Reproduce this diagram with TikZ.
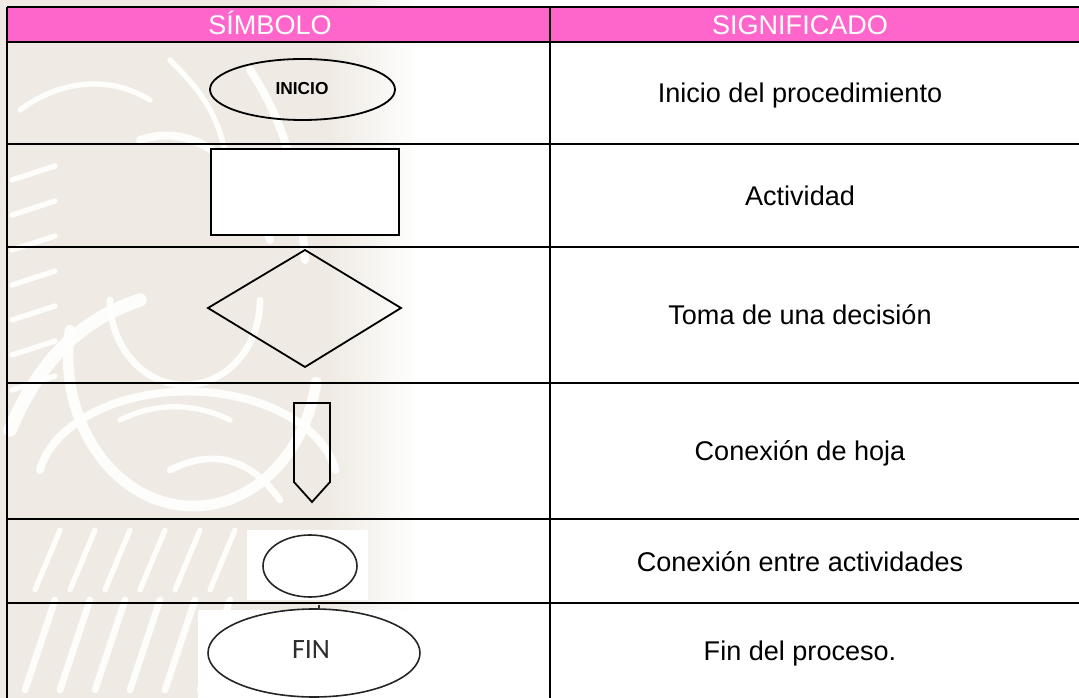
\documentclass[tikz,border=0pt]{standalone}
\usepackage{fontspec}
\setmainfont{Liberation Sans}
\newfontfamily\calfont{Carlito}
\definecolor{hdrpink}{RGB}{255,102,204}
\definecolor{wmbeige}{RGB}{239,235,228}
\definecolor{finfg}{RGB}{45,45,45}
\begin{document}
\begin{tikzpicture}[x=0.75pt,y=-0.75pt,
  grid/.style={line width=1.7pt,black},
  shp/.style={line width=1.35pt,black,line join=miter},
  hdr/.style={text=white,font=\fontsize{20.3pt}{24pt}\selectfont,anchor=base,inner sep=0pt},
  body/.style={text=black,font=\fontsize{20.3pt}{24pt}\selectfont,anchor=base,inner sep=0pt},
  wm/.style={white,line width=5pt,line cap=round,opacity=0.9}]
\useasboundingbox (0,0) rectangle (1079,698);
\fill[white] (0,0) rectangle (1079,698);
% watermark (faint emblem)
\fill[wmbeige] (0,0) rectangle (330,698);
\shade[left color=wmbeige,right color=white] (330,0) rectangle (420,698);
\begin{scope}
\clip (0,0) rectangle (420,698);
% large rings
\draw[wm,line width=8pt] (70,330) arc[start angle=190,end angle=10,x radius=125,y radius=150];
\draw[wm,line width=6pt] (40,470) arc[start angle=190,end angle=350,x radius=150,y radius=95];
\draw[wm,line width=5pt] (110,300) arc[start angle=180,end angle=0,x radius=75,y radius=85];
\draw[wm,line width=10pt] (10,430) .. controls (40,360) and (80,320) .. (140,300);
\draw[wm,line width=6pt] (140,140) .. controls (200,120) and (250,170) .. (270,240);
\draw[wm,line width=6pt] (250,70) .. controls (290,130) and (300,190) .. (305,260);
\draw[wm,line width=4pt] (20,110) .. controls (60,80) and (110,75) .. (150,100);
\draw[wm,line width=4pt] (170,60) .. controls (200,90) and (215,110) .. (225,150);
% feathers left side
\foreach \yy in {180,215,250,285,320,355,390}{
  \draw[wm,line width=4pt] (12,\yy) -- (55,\yy-14);
}
% feathers bottom left
\foreach \xx in {25,60,95,130,165,200}{
  \draw[wm,line width=5pt] (\xx,690) -- (\xx+30,600);
  \draw[wm,line width=4pt] (\xx+10,590) -- (\xx+35,530);
}
\draw[wm,line width=5pt] (170,470) .. controls (220,445) and (255,465) .. (280,500);
\draw[wm,line width=4pt] (120,420) .. controls (160,400) and (200,405) .. (230,420);
\end{scope}
% header
\fill[hdrpink] (7,7) rectangle (1079,42);
% shapes
\fill[white] (247,530) rectangle (368,600);
\fill[white] (198,610) rectangle (428,698);
\draw[shp] (302.5,89.5) ellipse[x radius=92.5,y radius=30.5];
\node[font=\bfseries\fontsize{13pt}{15pt}\selectfont,inner sep=0pt] (inicio) at (302,89) {INICIO};
\draw[shp,fill=white] (211,149) rectangle (399,235);
\draw[shp] (208,308) -- (305,250) -- (401,308) -- (305,367) -- cycle;
\draw[shp] (294,403) -- (330,403) -- (330,482) -- (312,502) -- (294,482) -- cycle;
\draw[shp,line width=1.2pt,black!85] (310,566) ellipse[x radius=47,y radius=31];
\draw[shp,line width=1.2pt,black!85] (314,653) ellipse[x radius=106,y radius=44];
\draw[line width=1pt,black!80] (319,605) -- (319,610);
\node[font=\calfont\fontsize{21pt}{24pt}\selectfont,text=finfg,inner sep=0pt] (fin) at (311,650) {FIN};
% grid
\foreach \yy in {7,42,144,247,383,519,603}{\draw[grid] (7,\yy) -- (1079,\yy);}
\draw[grid] (7,7) -- (7,698);
\draw[grid] (550,7) -- (550,698);
% header texts
\node[hdr] (h1) at (270,34.5) {SÍMBOLO};
\node[hdr] (h2) at (800,34.5) {SIGNIFICADO};
% body texts
\node[body] (t1) at (800,103) {Inicio del procedimiento};
\node[body] (t2) at (800,205.5) {Actividad};
\node[body] (t3) at (800,325) {Toma de una decisión};
\node[body] (t4) at (800,461) {Conexión de hoja};
\node[body] (t5) at (800,571) {Conexión entre actividades};
\node[body] (t6) at (800,660.5) {Fin del proceso.};
\end{tikzpicture}
\end{document}
